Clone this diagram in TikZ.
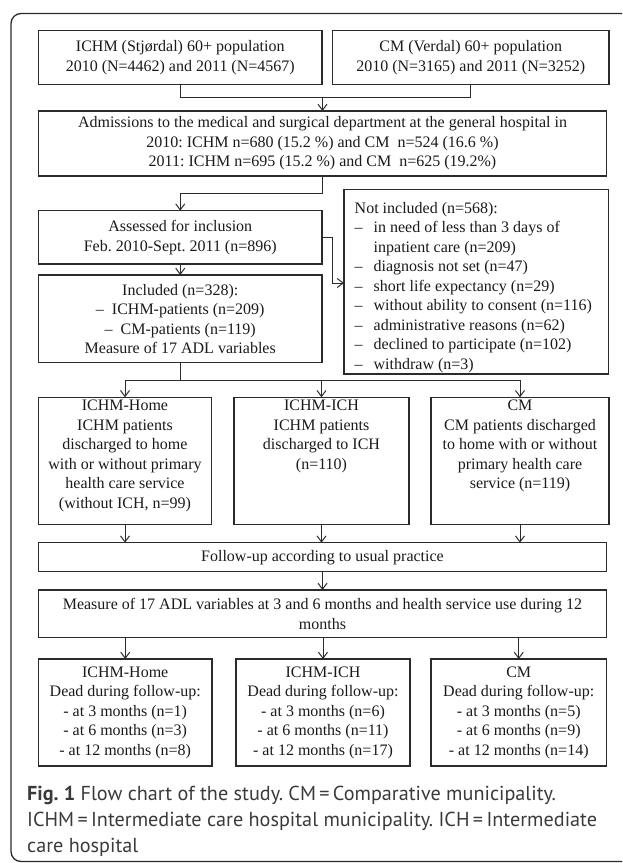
\documentclass[tikz,border=0pt]{standalone}
\usepackage{fontspec}
\setmainfont{Liberation Serif}
\newfontfamily\capfont{PT Sans}
\usetikzlibrary{arrows.meta}
\definecolor{ink}{HTML}{1A1A1A}
\definecolor{edge}{HTML}{2B2B2B}
\definecolor{captxt}{HTML}{3A3A3A}
\frenchspacing
\begin{document}
\begin{tikzpicture}[x=1pt,y=-1pt,
  font=\fontsize{16}{19.5}\selectfont,
  box/.style={draw=edge, line width=1.1pt, inner sep=0pt, outer sep=0pt, align=center, text=ink},
  lbl/.style={inner sep=0pt, outer sep=0pt, align=center, text=ink, anchor=north},
  ln/.style={draw=edge, line width=1pt},
  arr/.style={draw=edge, line width=1pt, -{Straight Barb[length=6pt,width=9pt]}}]
\useasboundingbox (0,0) rectangle (622,863);
\clip (0,0) rectangle (622,863);
\draw[edge, line width=1.3pt, rounded corners=10pt] (11,13.5) rectangle (700,861.5);

\node[box, minimum width=283.5pt, minimum height=53.6pt] (b1) at (180.25,57.5)
  {ICHM (Stjørdal) 60+ population\\2010 (N=4462) and 2011 (N=4567)};
\node[box, minimum width=276.5pt, minimum height=53.6pt] (b2) at (470.75,57.5)
  {CM (Verdal) 60+ population\\2010 (N=3165) and 2011 (N=3252)};
\node[box, minimum width=568pt, minimum height=65pt] (adm) at (322.5,143.5)
  {Admissions to the medical and surgical department at the general hospital in\\
   2010: ICHM n=680 (15.2 \%) and CM\ \ n=524 (16.6 \%)\\
   2011: ICHM n=695 (15.2 \%) and CM\ \ n=625 (19.2\%)};
\node[box, minimum width=283.5pt, minimum height=53.3pt] (ass) at (180.25,237.35)
  {Assessed for inclusion\\Feb. 2010-Sept. 2011 (n=896)};
\node[box, minimum width=283.5pt, minimum height=87.7pt] (inc) at (180.25,318.85)
  {Included (n=328):\\–\ \ ICHM-patients (n=209)\\–\ \ CM-patients (n=119)\\Measure of 17 ADL variables};
\node[box, minimum width=264.5pt, minimum height=184.7pt] (notinc) at (476.25,281.65) {};
\node[inner sep=0pt, align=left, text=ink, anchor=north west] (notinct) at (354.5,202)
  {Not included (n=568):\\
   \makebox[19pt][l]{–}in need of less than 3 days of\\
   \hspace*{19pt}inpatient care (n=209)\\
   \makebox[19pt][l]{–}diagnosis not set (n=47)\\
   \makebox[19pt][l]{–}short life expectancy (n=29)\\
   \makebox[19pt][l]{–}without ability to consent (n=116)\\
   \makebox[19pt][l]{–}administrative reasons (n=62)\\
   \makebox[19pt][l]{–}declined to participate (n=102)\\
   \makebox[19pt][l]{–}withdraw (n=3)};

\node[box, minimum width=173pt, minimum height=127pt] (gA) at (125,460.8) {};
\node[box, minimum width=175pt, minimum height=127pt] (gB) at (321.5,460.8) {};
\node[box, minimum width=178pt, minimum height=127pt] (gC) at (520,460.8) {};
\node[lbl] (gAt) at (125,400) {ICHM-Home\\ICHM patients\\discharged to home\\with or without primary\\health care service\\(without ICH, n=99)};
\node[lbl] (gBt) at (321.5,400) {ICHM-ICH\\ICHM patients\\discharged to ICH\\(n=110)};
\node[lbl] (gCt) at (520,400) {CM\\CM patients discharged\\to home with or without\\primary health care\\service (n=119)};

\node[box, minimum width=568pt, minimum height=29pt] (fu) at (322.5,557.2)
  {Follow-up according to usual practice};
\node[box, minimum width=568pt, minimum height=47.7pt] (meas) at (322.5,613.85)
  {Measure of 17 ADL variables at 3 and 6 months and health service use during 12\\months};

\node[box, minimum width=173.5pt, minimum height=107pt] (dA) at (125.25,712.5)
  {ICHM-Home\\Dead during follow-up:\\- at 3 months (n=1)\\- at 6 months (n=3)\\- at 12 months (n=8)};
\node[box, minimum width=174pt, minimum height=107pt] (dB) at (323,712.5)
  {ICHM-ICH\\Dead during follow-up:\\- at 3 months (n=6)\\- at 6 months (n=11)\\- at 12 months (n=17)};
\node[box, minimum width=175.5pt, minimum height=107pt] (dC) at (518.75,712.5)
  {CM\\Dead during follow-up:\\- at 3 months (n=5)\\- at 6 months (n=9)\\- at 12 months (n=14)};

\node[inner sep=0pt, anchor=base west, align=left, text=captxt,
  font=\capfont\fontsize{20.2}{26}\selectfont] (cap) at (27,852)
  {\textbf{Fig. 1} Flow chart of the study. CM\,=\,Comparative municipality.\\
   ICHM\,=\,Intermediate care hospital municipality. ICH\,=\,Intermediate\\
   care hospital};

% connectors
\coordinate (j1) at (322.5,97.7);
\coordinate (j2) at (322.5,193);
\coordinate (j3) at (332.5,283);
\coordinate (j4) at (180.25,380);
\draw[ln] (b1.south) |- (j1);
\draw[ln] (b2.south) |- (j1);
\draw[arr] (j1) -- (adm.north);
\draw[arr] (adm.south) -- (j2) -| (ass.north);
\draw[arr] (ass.south) -- (inc.north);
\draw[arr] (ass.east) -| (j3) -- (notinc.west |- j3);
\draw[ln] (inc.south) -- (j4);
\draw[ln] (gA.north |- j4) -- (gC.north |- j4);
\draw[arr] (gA.north |- j4) -- (gA.north);
\draw[arr] (gB.north |- j4) -- (gB.north);
\draw[arr] (gC.north |- j4) -- (gC.north);
\draw[arr] (gA.south) -- (gA.south |- fu.north);
\draw[arr] (gB.south) -- (gB.south |- fu.north);
\draw[arr] (gC.south) -- (gC.south |- fu.north);
\draw[arr] (fu.south) -- (meas.north);
\draw[arr] (dA.north |- meas.south) -- (dA.north);
\draw[arr] (dB.north |- meas.south) -- (dB.north);
\draw[arr] (dC.north |- meas.south) -- (dC.north);
\end{tikzpicture}
\end{document}
